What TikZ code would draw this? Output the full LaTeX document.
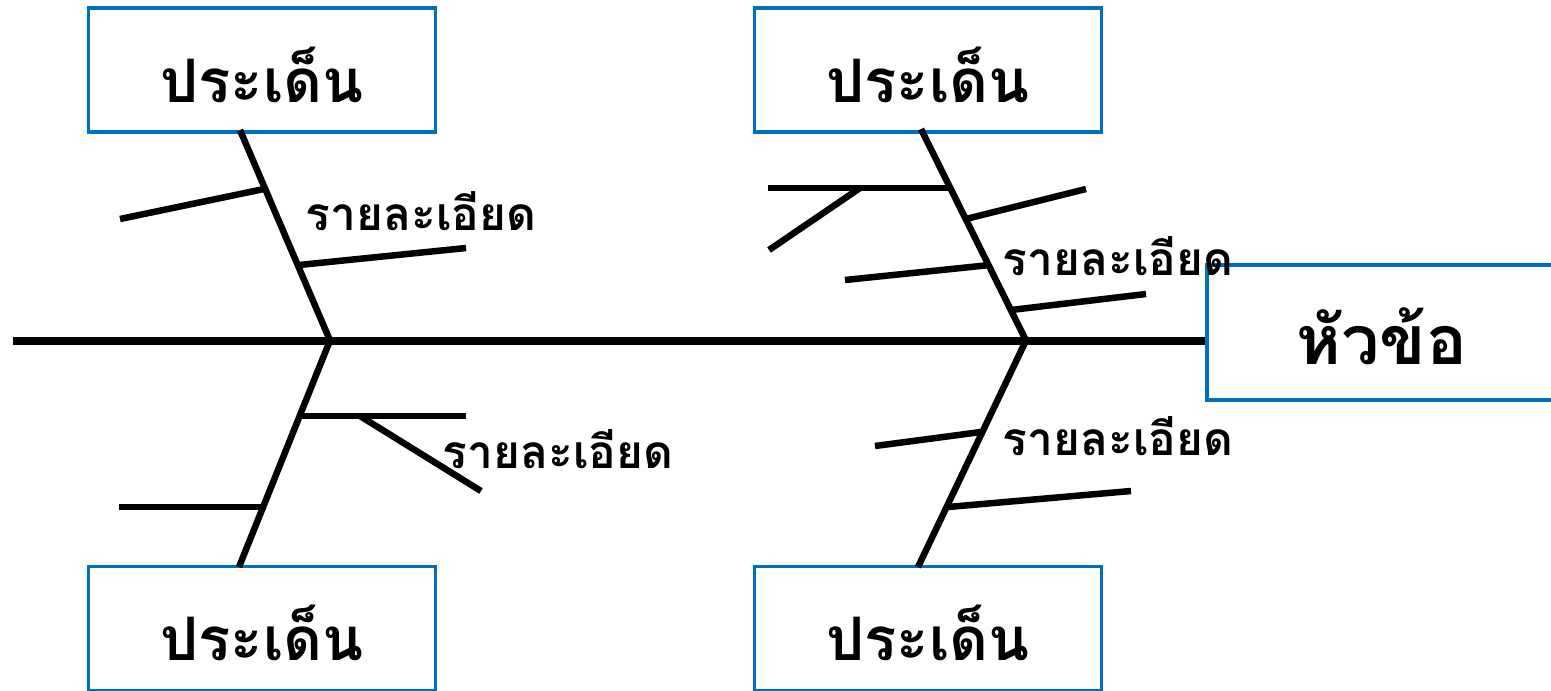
\documentclass[tikz,border=0pt]{standalone}
\usepackage{fontspec}
\newfontfamily\thaifont[Script=Thai]{Loma}
\begin{document}
\begin{tikzpicture}[x=1pt,y=-1pt,
  box/.style={draw=boxblue,line width=3.5pt,minimum width=347pt,minimum height=124pt,
    inner sep=0pt,text height=64pt,text depth=0pt,font=\thaifont\bfseries\fontsize{60}{62}\selectfont},
  detail/.style={anchor=base,inner sep=0pt,font=\thaifont\bfseries\fontsize{46}{48}\selectfont},
  spine/.style={line width=8pt},
  bone/.style={line width=6.5pt},
]
\definecolor{boxblue}{HTML}{0070C0}
\useasboundingbox (0,0) rectangle (1551,691);
% boxes
\node[box] (tl) at (262,70) {ประเด็น};
\node[box] (tr) at (928,70) {ประเด็น};
\node[box] (bl) at (262,628.5) {ประเด็น};
\node[box] (br) at (928,628.5) {ประเด็น};
\node[box,minimum width=350pt,minimum height=135pt,font=\thaifont\bfseries\fontsize{68}{70}\selectfont] (head) at (1382,332.5) {หัวข้อ};
% junctions
\coordinate (tail) at (13,340.5);
\coordinate (j1) at (330,340.5);
\coordinate (j2) at (1026,340.5);
\coordinate (tlb) at (240,130);
\coordinate (trb) at (921,129);
\coordinate (blb) at (239,567);
\coordinate (brb) at (918,567);
% spine
\draw[spine] (tail) -- (j2 -| head.west);
% main bones
\draw[bone] (tlb) -- (j1);
\draw[bone] (j1) -- (blb);
\draw[bone] (trb) -- (j2);
\draw[bone] (j2) -- (brb);
% sub-bones top-left
\coordinate (a1) at (264,189); \coordinate (a1e) at (120,219);
\coordinate (a2) at (299,265); \coordinate (a2e) at (466,248);
\draw[bone] (a1) -- (a1e);
\draw[bone] (a2) -- (a2e);
% sub-bones top-right
\coordinate (b1) at (949,188); \coordinate (b1e) at (768,188);
\coordinate (b1m) at (860,188); \coordinate (b1d) at (769,250);
\coordinate (b2) at (966,219); \coordinate (b2e) at (1086,189);
\coordinate (b3) at (990,265); \coordinate (b3e) at (845,280);
\coordinate (b4) at (1011,310); \coordinate (b4e) at (1146,294);
\draw[bone] (b1) -- (b1e);
\draw[bone] (b1m) -- (b1d);
\draw[bone] (b2) -- (b2e);
\draw[bone] (b3) -- (b3e);
\draw[bone] (b4) -- (b4e);
% sub-bones bottom-left
\coordinate (c1) at (301,416); \coordinate (c1e) at (466,416);
\coordinate (c1m) at (360,416); \coordinate (c1d) at (481,491);
\coordinate (c2) at (266,507); \coordinate (c2e) at (119,507);
\draw[bone] (c1) -- (c1e);
\draw[bone] (c1m) -- (c1d);
\draw[bone] (c2) -- (c2e);
% sub-bones bottom-right
\coordinate (d1) at (981,432); \coordinate (d1e) at (875,446);
\coordinate (d2) at (948,507); \coordinate (d2e) at (1131,491);
\draw[bone] (d1) -- (d1e);
\draw[bone] (d2) -- (d2e);
% detail labels
\node[detail] (t1) at (421,230) {รายละเอียด};
\node[detail] (t2) at (1118,275) {รายละเอียด};
\node[detail] (t3) at (558,468) {รายละเอียด};
\node[detail] (t4) at (1118,455) {รายละเอียด};
\end{tikzpicture}
\end{document}
